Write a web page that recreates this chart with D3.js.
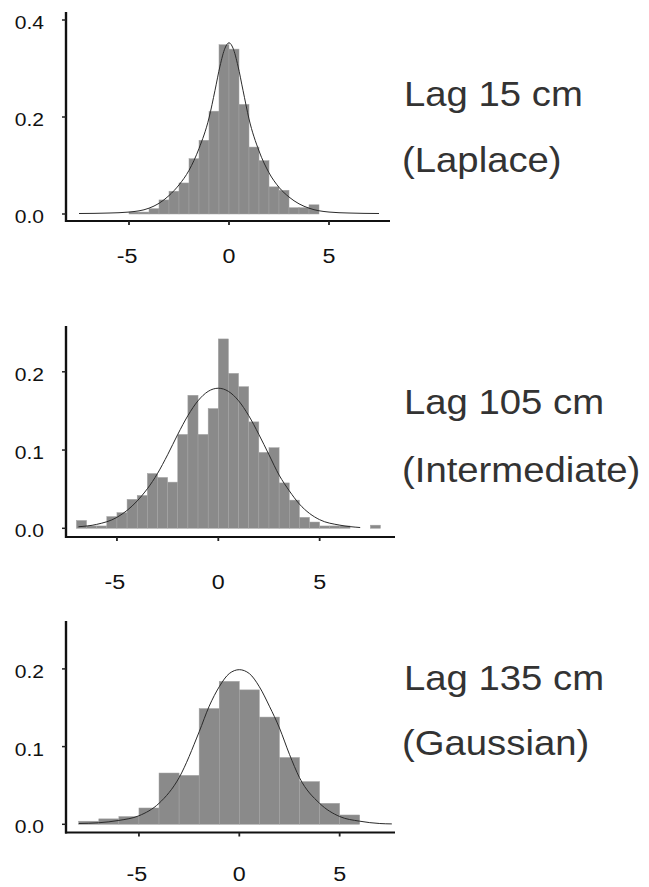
<!DOCTYPE html>
<html>
<head>
<meta charset="utf-8">
<script src="https://cdn.jsdelivr.net/npm/d3@7"></script>
<style>
  html, body { margin: 0; padding: 0; background: #ffffff; }
  svg { display: block; }
  text { font-family: "Liberation Sans", Arial, Helvetica, sans-serif; }
</style>
</head>
<body>
<svg id="chart" width="649" height="887"></svg>
<script>
// ---- Lag 15 cm (Laplace): histogram bins of width 0.5 and fitted density ----
const lag15BinLeft = [-5, -4.5, -4, -3.5, -3, -2.5, -2, -1.5, -1, -0.5, 0, 0.5, 1, 1.5, 2, 2.5, 3, 3.5, 4];
const lag15Density = [0.004, 0.004, 0.011, 0.029, 0.047, 0.064, 0.114, 0.152, 0.212, 0.349, 0.340, 0.226, 0.138, 0.110, 0.056, 0.049, 0.013, 0.013, 0.019];
const lag15CurveX = [-7.5, -6, -5, -4, -3.5, -3, -2.5, -2, -1.5, -1, -0.7, -0.45, -0.2, 0, 0.2, 0.45, 0.7, 1, 1.5, 2, 2.5, 3, 3.5, 4, 5, 6, 7.5];
const lag15CurveY = [0.001, 0.002, 0.004, 0.012, 0.022, 0.038, 0.060, 0.090, 0.135, 0.198, 0.255, 0.305, 0.342, 0.353, 0.342, 0.305, 0.255, 0.196, 0.130, 0.085, 0.055, 0.035, 0.021, 0.012, 0.004, 0.002, 0.001];

// ---- Lag 105 cm (Intermediate): bins of width 0.5 ----
const lag105BinLeft = [-7, -6.5, -6, -5.5, -5, -4.5, -4, -3.5, -3, -2.5, -2, -1.5, -1, -0.5, 0, 0.5, 1, 1.5, 2, 2.5, 3, 3.5, 4, 4.5, 5, 5.5, 6, 6.5, 7, 7.5];
const lag105Density = [0.010, 0.003, 0.003, 0.015, 0.020, 0.037, 0.042, 0.070, 0.065, 0.059, 0.120, 0.170, 0.120, 0.153, 0.242, 0.198, 0.181, 0.136, 0.097, 0.103, 0.058, 0.036, 0.014, 0.008, 0.003, 0.003, 0.003, 0, 0, 0.004];
const lag105CurveX = [-6.9, -6, -5, -4, -3, -2.5, -2, -1.5, -1, -0.5, 0, 0.5, 1, 1.5, 2, 2.5, 3, 3.5, 4, 4.5, 5, 6, 7];
const lag105CurveY = [0.002, 0.005, 0.014, 0.035, 0.070, 0.094, 0.120, 0.144, 0.163, 0.175, 0.179, 0.175, 0.163, 0.144, 0.120, 0.094, 0.068, 0.048, 0.031, 0.019, 0.011, 0.004, 0.001];

// ---- Lag 135 cm (Gaussian): bins of width 1 ----
const lag135BinLeft = [-8, -7, -6, -5, -4, -3, -2, -1, 0, 1, 2, 3, 4, 5];
const lag135Density = [0.004, 0.007, 0.010, 0.021, 0.066, 0.063, 0.149, 0.184, 0.173, 0.138, 0.086, 0.055, 0.027, 0.012];
const lag135CurveX = [-8, -7, -6, -5, -4, -3, -2, -1.5, -1, -0.5, 0, 0.5, 1, 1.5, 2, 2.5, 3, 4, 5, 6, 7, 7.6];
const lag135CurveY = [0.001, 0.002, 0.005, 0.011, 0.027, 0.060, 0.119, 0.152, 0.177, 0.194, 0.199, 0.194, 0.177, 0.152, 0.124, 0.090, 0.060, 0.027, 0.010, 0.004, 0.001, 0.0005];

// ---- axis ticks and captions ----
const xTicks = [-5, 0, 5];
const lag15YTicks = [0.0, 0.2, 0.4];
const lag105YTicks = [0.0, 0.1, 0.2];
const lag135YTicks = [0.0, 0.1, 0.2];
const captionLag = ["Lag 15 cm", "Lag 105 cm", "Lag 135 cm"];
const captionModel = ["(Laplace)", "(Intermediate)", "(Gaussian)"];

// ---- panel layout (pixels) ----
const panels = [
  { binLeft: lag15BinLeft, dens: lag15Density, binW: 0.5, cx: lag15CurveX, cy: lag15CurveY, yTicks: lag15YTicks,
    x0: 229, xPerUnit: 20.0, y0: 214, yPerUnit: 485, axisTop: 12, xAxisY: 221, xAxisRight: 390, xLabelY: 263,
    capY1: 106, capY2: 172 },
  { binLeft: lag105BinLeft, dens: lag105Density, binW: 0.5, cx: lag105CurveX, cy: lag105CurveY, yTicks: lag105YTicks,
    x0: 218.3, xPerUnit: 20.27, y0: 528.3, yPerUnit: 782.5, axisTop: 326, xAxisY: 537, xAxisRight: 395, xLabelY: 589,
    capY1: 414, capY2: 482 },
  { binLeft: lag135BinLeft, dens: lag135Density, binW: 1, cx: lag135CurveX, cy: lag135CurveY, yTicks: lag135YTicks,
    x0: 239.3, xPerUnit: 20.07, y0: 824.3, yPerUnit: 777, axisTop: 621, xAxisY: 832.5, xAxisRight: 395, xLabelY: 881,
    capY1: 690, capY2: 755 }
];

const axisX = 66;
const stretch = 1.11;
const svg = d3.select("#chart");

// text drawn slightly wider than the font's natural proportions
function wideText(g, str, x, y, size, anchor, fill) {
  return g.append("text")
    .attr("transform", `translate(${x},${y}) scale(${stretch},1)`)
    .attr("text-anchor", anchor)
    .attr("font-size", size)
    .attr("fill", fill)
    .text(str);
}

panels.forEach((p, i) => {
  const g = svg.append("g");
  const x = d3.scaleLinear().domain([-5, 5]).range([p.x0 - 5 * p.xPerUnit, p.x0 + 5 * p.xPerUnit]);
  const y = d3.scaleLinear().domain([0, 0.2]).range([p.y0, p.y0 - 0.2 * p.yPerUnit]);

  const bins = p.binLeft.map((l, k) => ({ left: l, right: l + p.binW, d: p.dens[k] }));

  // histogram bars
  g.selectAll("rect.bar").data(bins.filter(b => b.d > 0)).join("rect")
    .attr("class", "bar")
    .attr("x", b => x(b.left))
    .attr("width", b => x(b.right) - x(b.left))
    .attr("y", b => y(b.d))
    .attr("height", b => y(0) - y(b.d))
    .attr("fill", "#8a8a8a")
    .attr("stroke", "#a3a3a3")
    .attr("stroke-width", 0.5);

  // fitted density curve
  const pts = p.cx.map((v, k) => [v, p.cy[k]]);
  g.append("path")
    .attr("d", d3.line().x(d => x(d[0])).y(d => y(d[1])).curve(d3.curveMonotoneX)(pts))
    .attr("fill", "none")
    .attr("stroke", "#2a2a2a")
    .attr("stroke-width", 1);

  // y axis
  g.append("line")
    .attr("x1", axisX).attr("x2", axisX)
    .attr("y1", p.axisTop).attr("y2", p.xAxisY + 1)
    .attr("stroke", "#111").attr("stroke-width", 2.4);
  g.selectAll("line.ytick").data(p.yTicks).join("line")
    .attr("class", "ytick")
    .attr("x1", axisX - 4).attr("x2", axisX)
    .attr("y1", d => y(d)).attr("y2", d => y(d))
    .attr("stroke", "#222").attr("stroke-width", 1.5);
  p.yTicks.forEach(t => wideText(g, t.toFixed(1), 44, y(t) + 9, 19, "end", "#111"));

  // x axis
  g.append("line")
    .attr("x1", axisX - 1).attr("x2", p.xAxisRight)
    .attr("y1", p.xAxisY).attr("y2", p.xAxisY)
    .attr("stroke", "#111").attr("stroke-width", 2.2);
  g.selectAll("line.xtick").data(xTicks).join("line")
    .attr("class", "xtick")
    .attr("x1", d => x(d)).attr("x2", d => x(d))
    .attr("y1", p.xAxisY).attr("y2", p.xAxisY + 4)
    .attr("stroke", "#222").attr("stroke-width", 1.8);
  xTicks.forEach(t => wideText(g, String(t), x(t) - (t < 0 ? 2 : 0), p.xLabelY, 21, "middle", "#111"));

  // captions
  wideText(g, captionLag[i], 404, p.capY1, 34.5, "start", "#333");
  wideText(g, captionModel[i], 402, p.capY2, 34.5, "start", "#333");
});
</script>
</body>
</html>
